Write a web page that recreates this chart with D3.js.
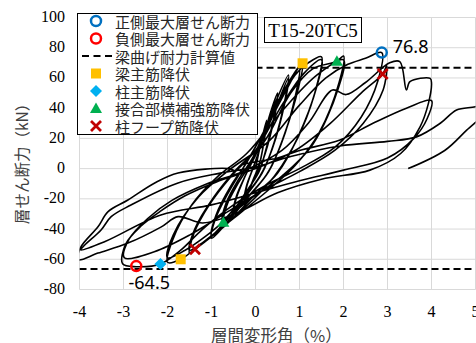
<!DOCTYPE html>
<html>
<head>
<meta charset="utf-8">
<script src="https://cdn.jsdelivr.net/npm/d3@7"></script>
<style>
  body { margin: 0; background: #fff; }
  svg { display: block; }
</style>
</head>
<body>
<div id="chart"></div>
<script>
// axis ticks
const xTicks = [-4, -3, -2, -1, 0, 1, 2, 3, 4, 5];
const yTicks = [-80, -60, -40, -20, 0, 20, 40, 60, 80, 100];

// calculated beam flexural capacity (kN)
const capacityPos = 66.8;
const capacityNeg = -66.5;

const loop025 = [[0,0],[0.1,14],[0.25,32],[0.21,22],[0.1,4],[-0.05,-7],[-0.25,-21],[-0.21,-13],[-0.1,-3],[0.05,9],[0.25,30],[0.2,19],[0.08,2],[-0.08,-10],[-0.25,-20],[-0.2,-11],[-0.06,0]];
const loop050 = [[0.15,18],[0.35,38],[0.5,50],[0.44,37],[0.25,14],[0.08,-2],[-0.2,-15],[-0.5,-30],[-0.44,-20],[-0.28,-8],[-0.08,5],[0.2,24],[0.5,47],[0.43,34],[0.22,10],[0.02,-5],[-0.25,-17],[-0.5,-28],[-0.43,-18],[-0.22,-4]];
const loop075 = [[0.05,12],[0.4,40],[0.75,62],[0.68,47],[0.42,17],[0.15,-3],[-0.3,-21],[-0.73,-36],[-0.66,-25],[-0.4,-10],[-0.1,4],[0.35,32],[0.75,60],[0.67,44],[0.38,13],[0.1,-5],[-0.35,-22],[-0.75,-34],[-0.67,-23],[-0.38,-7]];
const loop100 = [[-0.05,8],[0.5,44],[1.07,69.7],[0.98,54],[0.65,22],[0.3,-2],[-0.2,-20],[-0.6,-34],[-1.0,-46],[-0.92,-34],[-0.6,-15],[-0.25,2],[0.3,30],[0.7,52],[1.0,67],[0.92,50],[0.58,16],[0.25,-4],[-0.25,-21],[-0.65,-34],[-1.0,-44],[-0.9,-31],[-0.55,-11],[-0.2,4]];
const loop150 = [[0.4,36],[0.9,62],[1.2,70],[1.5,74],[1.42,58],[1.05,26],[0.6,2],[0.2,-13],[-0.4,-30],[-1.0,-45],[-1.375,-53.4],[-1.5,-56],[-1.4,-43],[-1.05,-24],[-0.55,-5],[0,12],[0.6,42],[1.1,63],[1.5,72],[1.4,55],[0.95,20],[0.5,-3],[0,-17],[-0.7,-38],[-1.2,-49],[-1.5,-54],[-1.38,-40],[-0.95,-19],[-0.45,-1]];
const loop200 = [[0.2,18],[0.8,50],[1.3,66],[1.85,71],[2.0,74.5],[1.9,57],[1.45,24],[0.9,2],[0.3,-14],[-0.5,-33],[-1.2,-49],[-1.7,-60],[-2.0,-62],[-1.88,-47],[-1.45,-24],[-0.85,-5],[-0.2,10],[0.6,38],[1.4,62],[2.0,72],[1.88,53],[1.3,16],[0.6,-5],[-0.2,-22],[-1.1,-44],[-1.6,-54],[-2.0,-59],[-1.87,-44],[-1.3,-19],[-0.6,-1]];
const loop300 = [[0.3,18],[1.0,42],[1.6,60],[2.1,69],[2.5,73],[2.87,76.8],[2.78,58],[2.4,34],[1.8,14],[1.0,0],[0.3,-10],[-0.5,-24],[-1.2,-40],[-1.7,-54],[-2.16,-63.1],[-2.71,-64.9],[-3.02,-63],[-2.95,-50],[-2.6,-38],[-2.15,-28],[-1.6,-18],[-0.9,-9],[0,0],[0.9,12],[1.7,30],[2.4,50],[2.89,62.6],[2.98,68],[2.9,52],[2.45,30],[1.8,12],[1.0,-2],[0.2,-14],[-0.6,-28],[-1.5,-44],[-2.3,-55],[-2.98,-59],[-2.88,-47],[-2.45,-33],[-1.9,-21],[-1.1,-10],[-0.3,-2]];
const loop400 = [[0.6,12],[1.2,30],[1.75,52],[2.06,49],[2.5,57],[3.05,70],[3.28,70.8],[3.43,52],[3.51,57.5],[3.97,59.7],[4.0,56.4],[3.93,43.2],[3.74,27.7],[3.3,10],[2.6,-1],[1.5,-7],[0.5,-16],[-0.44,-29.5],[-1.2,-36],[-1.76,-31.8],[-2.15,-38.7],[-2.9,-49.3],[-3.58,-55.9],[-4.03,-60.3],[-3.97,-52],[-3.58,-38.5],[-3.35,-28.5],[-2.9,-20.8],[-2.29,-9.5],[-1.76,-2.9],[-0.6,0],[-0.45,-1.5],[-0.35,2],[0.5,7],[1.0,12],[1.92,19],[2.67,30],[3.43,40],[4.0,45],[3.9,33],[3.6,20],[3.0,7],[2.0,-1],[1.0,-8],[0,-16],[-1.0,-24],[-2.15,-30.7],[-3.43,-48.4],[-3.97,-53.8],[-3.88,-50.6],[-3.51,-40.6],[-3.28,-31.8],[-2.83,-24.1],[-1.76,-9.5],[-0.8,-3],[0,1]];
const loopFinal = [[0.8,8],[1.92,15],[3.0,18],[3.66,21],[4.2,30],[4.57,38.8],[5.0,41],[5.3,44],[5.25,38],[4.8,25.5],[4.3,12],[3.47,0]];

// event markers [drift %, shear kN]
const posMax = [[2.87, 76.8]];
const negMax = [[-2.71, -64.5]];
const beamYield = [[1.07, 69.7], [-1.70, -60.0]];
const colYield = [[-2.16, -63.1]];
const jointYield = [[1.85, 71.0], [-0.73, -35.5]];
const hoopYield = [[2.89, 62.6], [-1.375, -53.4]];

const legendLabels = ['正側最大層せん断力', '負側最大層せん断力', '梁曲げ耐力計算値', '梁主筋降伏', '柱主筋降伏', '接合部横補強筋降伏', '柱フープ筋降伏'];

const W = 476, H = 343;
const svg = d3.select('#chart').append('svg').attr('width', W).attr('height', H);

const x = d3.scaleLinear().domain([-4, 5]).range([79.5, 475.5]);
const y = d3.scaleLinear().domain([-80, 100]).range([289.5, 17.5]);

svg.append('defs').append('clipPath').attr('id', 'plot')
  .append('rect').attr('x', 79.5).attr('y', 17.5).attr('width', 396).attr('height', 272);

// grid
svg.append('g').selectAll('line').data(xTicks).join('line')
  .attr('x1', d => x(d)).attr('x2', d => x(d)).attr('y1', y(100)).attr('y2', y(-80))
  .attr('stroke', '#d9d9d9').attr('stroke-width', 1);
svg.append('g').selectAll('line').data(yTicks).join('line')
  .attr('x1', x(-4)).attr('x2', x(5)).attr('y1', d => y(d)).attr('y2', d => y(d))
  .attr('stroke', '#d9d9d9').attr('stroke-width', 1);

// tick labels
svg.append('g').selectAll('text').data(yTicks).join('text')
  .attr('x', 65).attr('y', d => y(d) - 1).attr('text-anchor', 'end').attr('dominant-baseline', 'central')
  .attr('font-family', 'Liberation Serif').attr('font-size', 16).attr('fill', '#000').text(d => d);
svg.append('g').selectAll('text').data(xTicks).join('text')
  .attr('x', d => x(d)).attr('y', 317).attr('text-anchor', 'middle')
  .attr('font-family', 'Liberation Serif').attr('font-size', 16).attr('fill', '#000').text(d => d);

// axis titles
svg.append('text').attr('transform', 'translate(28,160) rotate(-90)').attr('text-anchor', 'middle')
  .attr('font-family', 'Noto Sans CJK JP').attr('font-size', 15.5).attr('fill', '#404040').text('層せん断力（kN）');
svg.append('text').attr('x', 211).attr('y', 342)
  .attr('font-family', 'Noto Sans CJK JP').attr('font-size', 16.5).attr('fill', '#404040').text('層間変形角（%）');

const plot = svg.append('g').attr('clip-path', 'url(#plot)');

// capacity lines
plot.selectAll('line.cap').data([capacityPos, capacityNeg]).join('line')
  .attr('class', 'cap')
  .attr('x1', x(-4)).attr('x2', x(5)).attr('y1', d => y(d)).attr('y2', d => y(d))
  .attr('stroke', '#000').attr('stroke-width', 2).attr('stroke-dasharray', '7,4');

// hysteresis curve
const hyst = [].concat(loop025, loop050, loop075, loop100, loop150, loop200, loop300, loop400, loopFinal);
const line = d3.line().x(d => x(d[0])).y(d => y(d[1])).curve(d3.curveCatmullRom.alpha(0.5));
plot.append('path').attr('d', line(hyst))
  .attr('fill', 'none').attr('stroke', '#000').attr('stroke-width', 1.6).attr('stroke-linejoin', 'round');

// markers
function drawMarker(g, kind, cx, cy) {
  if (kind === 'posMax' || kind === 'negMax') {
    g.append('circle').attr('cx', cx).attr('cy', cy).attr('r', 5)
      .attr('fill', 'none').attr('stroke', kind === 'posMax' ? '#0070C0' : '#FF0000').attr('stroke-width', 2.5);
  } else if (kind === 'beam') {
    g.append('rect').attr('x', cx - 5).attr('y', cy - 5).attr('width', 10).attr('height', 10).attr('fill', '#FFC000');
  } else if (kind === 'col') {
    g.append('path').attr('d', `M${cx},${cy - 6}L${cx + 6},${cy}L${cx},${cy + 6}L${cx - 6},${cy}Z`).attr('fill', '#00B0F0');
  } else if (kind === 'joint') {
    g.append('path').attr('d', `M${cx},${cy - 6}L${cx + 6},${cy + 4.5}L${cx - 6},${cy + 4.5}Z`).attr('fill', '#00B050');
  } else if (kind === 'hoop') {
    g.append('path').attr('d', `M${cx - 5},${cy - 5}L${cx + 5},${cy + 5}M${cx + 5},${cy - 5}L${cx - 5},${cy + 5}`)
      .attr('stroke', '#C00000').attr('stroke-width', 2.8).attr('fill', 'none');
  }
}
const markerSets = [['beam', beamYield], ['col', colYield], ['joint', jointYield], ['hoop', hoopYield], ['posMax', posMax], ['negMax', negMax]];
const mk = svg.append('g');
for (const [kind, pts] of markerSets) {
  for (const p of pts) drawMarker(mk, kind, x(p[0]), y(p[1]));
}

// peak labels
svg.append('text').attr('x', x(posMax[0][0]) + 11).attr('y', 53)
  .attr('font-family', 'Noto Sans').attr('font-size', 18).attr('fill', '#000').text(posMax[0][1].toFixed(1));
svg.append('text').attr('x', x(negMax[0][0]) + 13).attr('y', 289)
  .attr('text-anchor', 'middle')
  .attr('font-family', 'Noto Sans').attr('font-size', 18).attr('fill', '#000').text(negMax[0][1].toFixed(1));

// legend
const lg = svg.append('g');
lg.append('rect').attr('x', 77.5).attr('y', 13.5).attr('width', 180).attr('height', 121)
  .attr('fill', '#fff').attr('stroke', '#000').attr('stroke-width', 1);
const legendKinds = ['posMax', 'negMax', 'cap', 'beam', 'col', 'joint', 'hoop'];
legendKinds.forEach((k, i) => {
  const cy = 21 + i * 17.5;
  if (k === 'cap') {
    lg.append('line').attr('x1', 82).attr('x2', 112).attr('y1', cy).attr('y2', cy)
      .attr('stroke', '#000').attr('stroke-width', 2).attr('stroke-dasharray', '7,4.5');
  } else {
    drawMarker(lg, k, 96, cy);
  }
  lg.append('text').attr('x', 115).attr('y', cy).attr('dominant-baseline', 'central')
    .attr('font-family', 'Noto Sans CJK JP').attr('font-size', 15).attr('fill', '#262626').text(legendLabels[i]);
});

// specimen label
svg.append('rect').attr('x', 264.5).attr('y', 17.5).attr('width', 97).attr('height', 25)
  .attr('fill', '#fff').attr('stroke', '#000').attr('stroke-width', 1);
svg.append('text').attr('x', 313).attr('y', 36.5).attr('text-anchor', 'middle')
  .attr('font-family', 'Liberation Serif').attr('font-size', 19).attr('fill', '#000').text('T15-20TC5');
</script>
</body>
</html>
